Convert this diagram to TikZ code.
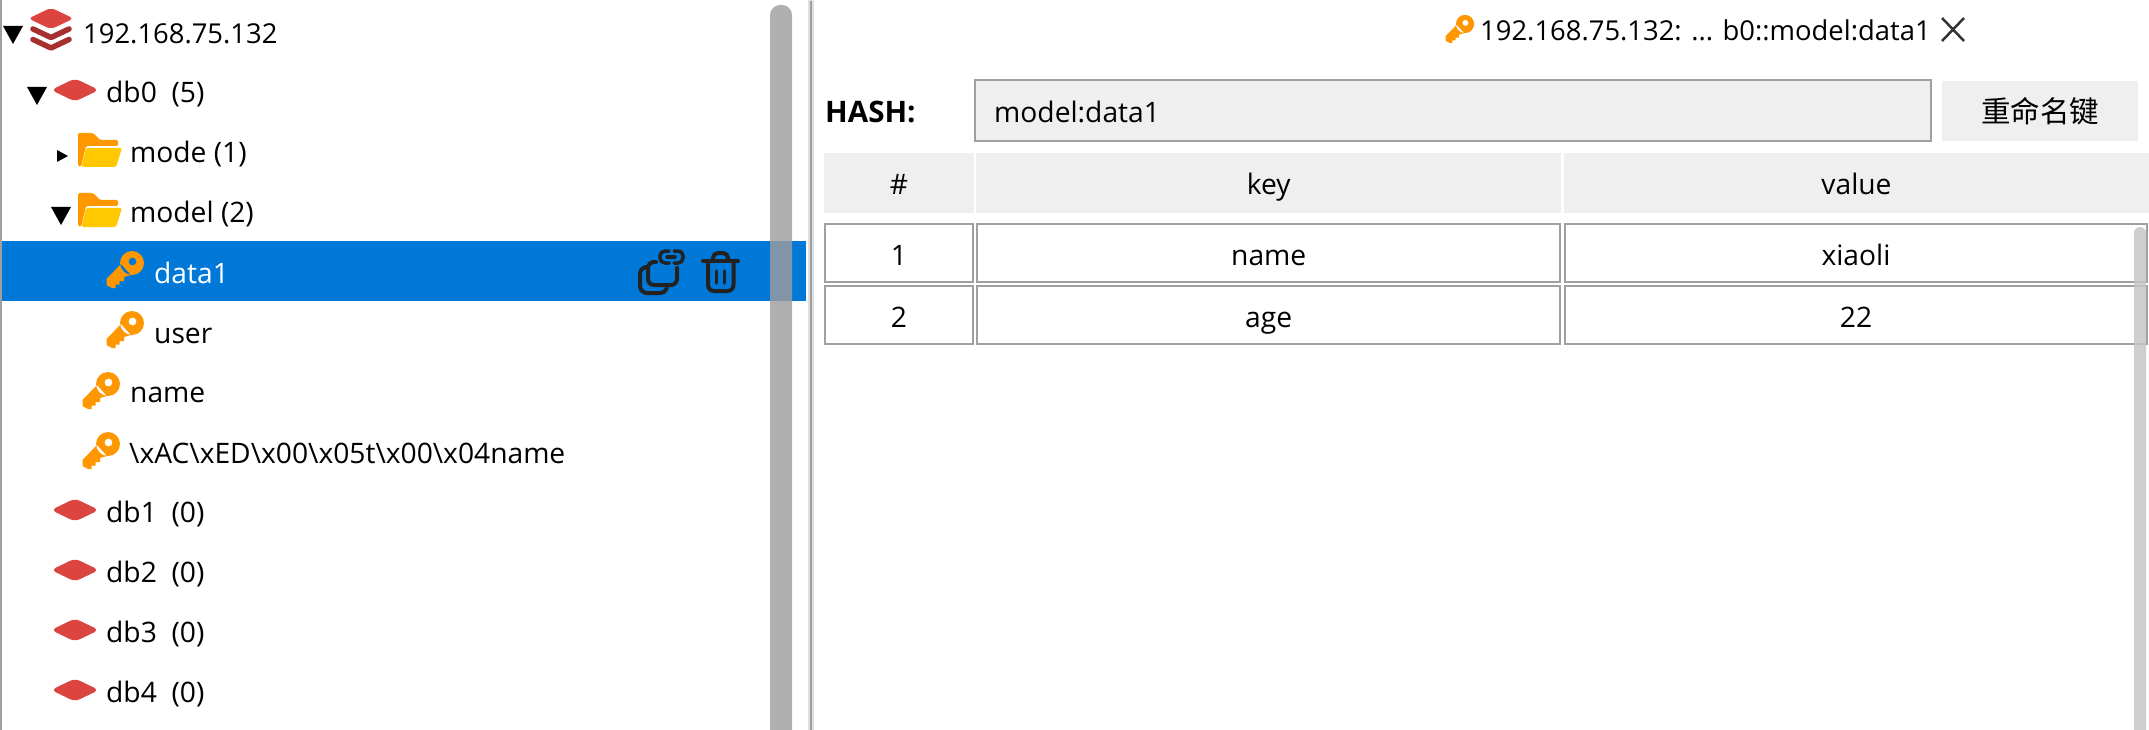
\documentclass[tikz,border=0pt]{standalone}
\usepackage{fontspec}
\setmainfont{Open Sans}
\newfontfamily\cjkfont{Noto Sans CJK SC}
\definecolor{selblue}{HTML}{0078D7}
\definecolor{linegray}{HTML}{A0A0A0}
\definecolor{cellgray}{HTML}{EFEFEF}
\definecolor{dbred}{HTML}{DC4440}
\definecolor{dbdark}{HTML}{A5302E}
\definecolor{keyorange}{HTML}{FF9800}
\definecolor{folderyellow}{HTML}{FFC800}
\definecolor{icondark}{HTML}{222222}
\tikzset{
  every node/.style={font=\fontsize{28.2}{30}\selectfont,inner sep=0pt},
  treeitem/.style={anchor=base west},
  digititem/.style={anchor=base west,font=\fontsize{27.4}{30}\selectfont},
  hdrcell/.style={fill=cellgray,text height=26pt,text depth=2pt,minimum height=60pt},
  datacell/.style={draw=linegray,line width=2pt,text height=26pt,text depth=2pt,minimum height=58pt},
  tricon/.style={fill=black},
  dbicon/.pic={
    \fill[dbred,rounded corners=5pt] (-24,0) -- (0,-11.5) -- (24,0) -- (0,11.5) -- cycle;
  },
  hosticon/.pic={
    \draw[dbdark,line width=5.5pt,line cap=round,line join=round] (-18,20) -- (0,28.5) -- (18,20);
    \draw[dbdark,line width=5.5pt,line cap=round,line join=round] (-18,9.5) -- (0,18) -- (18,9.5);
    \fill[dbred,draw=white,line width=1pt,rounded corners=5pt] (-24,-1) -- (0,-12.5) -- (24,-1) -- (0,10.5) -- cycle;
  },
  foldericon/.pic={
    \fill[keyorange,rounded corners=1.5pt] (0,0) -- (15,0) -- (22,7) -- (40,7) -- (40,13) -- (8,13) -- (3,34) -- (0,33) -- cycle;
    \fill[folderyellow,rounded corners=1.5pt] (8,15) -- (44,15) -- (38,34) -- (3.5,34) -- cycle;
  },
  keyicon/.pic={
    \fill[keyorange,even odd rule] (0,0) circle (12) (0.5,-1.5) circle (4)
      (-11,1) -- (-25.5,16) -- (-25.5,22) -- (-20,25) -- (-16.5,25) -- (-16.5,21.5) -- (-12.5,21.5) -- (-12.5,18) -- (-8,18) -- (-8,14) -- (-1,12) -- cycle;
  },
  copyicon/.pic={
    \draw[icondark,line width=4pt,line cap=round,rounded corners=6pt] (57,28) -- (57,45) -- (28,45) -- (28,22) -- (36,22);
    \draw[icondark,line width=4pt,line cap=round,rounded corners=7pt] (26,27) -- (20,27) -- (20,53) -- (47,53) -- (47,46);
    \draw[icondark,line width=3.5pt,line cap=round,rounded corners=5pt] (49,11) -- (40,11) -- (40,23) -- (49,23);
    \draw[icondark,line width=3.5pt,line cap=round,rounded corners=5pt] (54,11) -- (63,11) -- (63,23) -- (54,23);
    \draw[icondark,line width=3.5pt,line cap=round] (47,17) -- (55,17);
  },
  trashicon/.pic={
    \draw[icondark,line width=4pt,line cap=round] (0,0) -- (35,0);
    \draw[icondark,line width=4pt,rounded corners=5pt] (10,0) -- (10,-8) -- (25,-8) -- (25,0);
    \draw[icondark,line width=4pt,rounded corners=6pt] (5,2) -- (5,30) -- (30.5,30) -- (30.5,2);
    \draw[icondark,line width=3.5pt,line cap=round] (13.7,10) -- (13.7,22);
    \draw[icondark,line width=3.5pt,line cap=round] (21.3,10) -- (21.3,22);
  }
}
\begin{document}
\begin{tikzpicture}[x=1pt,y=-1pt]
  \useasboundingbox (0,0) rectangle (2149,730);
  \fill[white] (0,0) rectangle (2149,730);
  % left panel
  \fill[linegray] (0,0) rectangle (2,730);
  \fill[selblue] (2,241) rectangle (806,301);
  \node[digititem] (host) at (83,43.5) {192.168.75.132};
  \node[treeitem] (db0) at (106,102.5) {db0\ \ (5)};
  \node[treeitem] (mode) at (130,162.5) {mode (1)};
  \node[treeitem] (model) at (130,222.5) {model (2)};
  \node[treeitem,text=white] (data1) at (154,283) {data1};
  \node[treeitem] (user) at (154,343) {user};
  \node[treeitem] (name) at (130,402.5) {name};
  \node[treeitem] (rawname) at (129,463) {\textbackslash{}xAC\textbackslash{}xED\textbackslash{}x00\textbackslash{}x05t\textbackslash{}x00\textbackslash{}x04name};
  \node[treeitem] (db1) at (106,522.5) {db1\ \ (0)};
  \node[treeitem] (db2) at (106,582.5) {db2\ \ (0)};
  \node[treeitem] (db3) at (106,642.5) {db3\ \ (0)};
  \node[treeitem] (db4) at (106,702.5) {db4\ \ (0)};
  % expanders
  \fill[tricon] (3,26) -- (23,26) -- (13,44) -- cycle;
  \fill[tricon] (27,87) -- (47,87) -- (37,105) -- cycle;
  \fill[tricon] (57,150) -- (68,156) -- (57,162) -- cycle;
  \fill[tricon] (51,207) -- (71,207) -- (61,225) -- cycle;
  % icons
  \pic (hosticn) at (51,19.5) {hosticon};
  \pic (db0icn) at (75,90) {dbicon};
  \pic (modeicn) at (78,133) {foldericon};
  \pic (modelicn) at (78,193) {foldericon};
  \pic (data1icn) at (132,263) {keyicon};
  \pic (usericn) at (132,323) {keyicon};
  \pic (nameicn) at (108,384) {keyicon};
  \pic (rawicn) at (108,444) {keyicon};
  \pic (db1icn) at (75,510) {dbicon};
  \pic (db2icn) at (75,570) {dbicon};
  \pic (db3icn) at (75,630) {dbicon};
  \pic (db4icn) at (75,690) {dbicon};
  \pic (copyicn) at (620,240) {copyicon};
  \pic (trashicn) at (703,261) {trashicon};
  % scrollbar and divider
  \fill[black!38,opacity=.81,rounded corners=10pt] (770,5) -- (792,5) -- (792,760) -- (770,760) -- cycle;
  \fill[black!12] (808,0) rectangle (814,730);
  \fill[linegray] (810,1) rectangle (812,730);
  % tab
  \pic[scale=.76] (tabicn) at (1465,24) {keyicon};
  \node[digititem] (tabtext) at (1480,40.7) {192.168.75.132: ... b0::model:data1};
  \draw[black!80,line width=2.5pt] (1942,18) -- (1964,41);
  \draw[black!80,line width=2.5pt] (1964,18) -- (1942,41);
  % key row
  \node[treeitem,font=\fontsize{29.6}{30}\selectfont\bfseries] (hashlbl) at (825,122.7) {HASH:};
  \node[draw=linegray,fill=cellgray,line width=2pt,minimum width=956pt,minimum height=61.5pt] (keybox) at (1453,110.75) {};
  \node[treeitem] (keytext) at (994,122.7) {model:data1};
  \node[fill=cellgray,minimum width=196pt,minimum height=60pt,font=\cjkfont\fontsize{29.5}{32}\selectfont] (renamebtn) at (2040,111) {重命名键};
  % table
  \node[hdrcell,minimum width=150pt] (hnum) at (899,183) {\#};
  \node[hdrcell,minimum width=585.5pt] (hkey) at (1268.7,183) {key};
  \node[hdrcell,minimum width=585pt] (hval) at (1856.5,183) {value};
  \node[datacell,minimum width=148pt] (num1) at (899,253) {1};
  \node[datacell,minimum width=583.5pt] (key1) at (1268.7,253) {name};
  \node[datacell,minimum width=582pt] (val1) at (1856,253) {xiaoli};
  \node[datacell,minimum width=148pt] (num2) at (899,315) {2};
  \node[datacell,minimum width=583.5pt] (key2) at (1268.7,315) {age};
  \node[datacell,minimum width=582pt] (val2) at (1856,315) {22};
  \fill[black!22.5,opacity=.85,rounded corners=6pt] (2134,227) -- (2146,227) -- (2146,760) -- (2134,760) -- cycle;
\end{tikzpicture}
\end{document}
